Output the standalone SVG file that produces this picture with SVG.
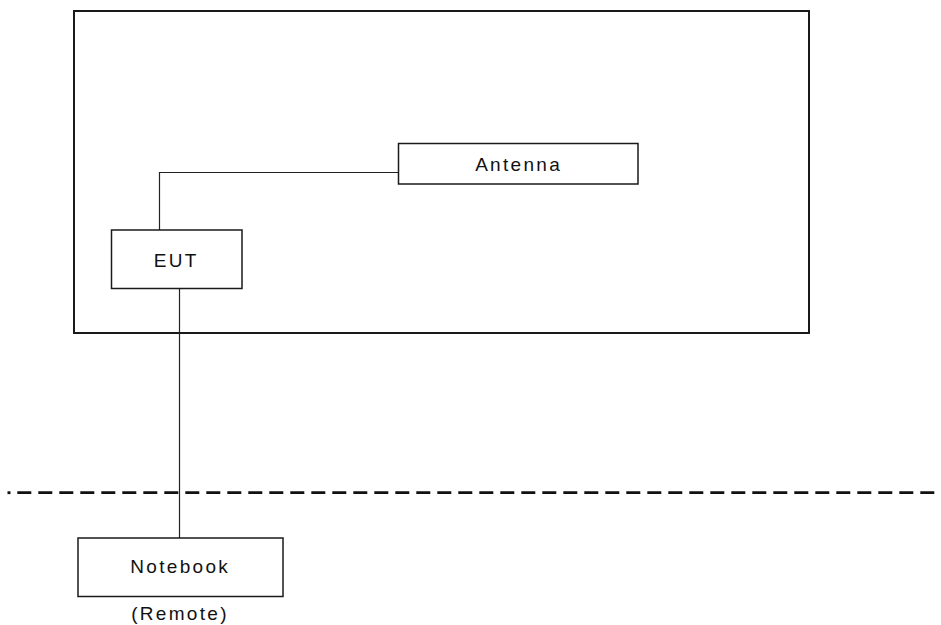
<svg xmlns="http://www.w3.org/2000/svg" width="941" height="625" viewBox="0 0 941 625">
<style>
.box{fill:#fff;stroke:#1a1a1a;stroke-width:1.5}
.outer{fill:none;stroke:#1a1a1a;stroke-width:2}
.lbl{font-family:"Liberation Sans",Arial,sans-serif;font-size:19px;letter-spacing:2.3px;fill:#111;text-anchor:middle}
.wire{fill:none;stroke:#222;stroke-width:1.2}
.dash{fill:none;stroke:#111;stroke-width:2.8}
</style>
<rect id="room" class="outer" x="74" y="11" width="735" height="322"/>
<g id="connectors">
<polyline class="wire" points="398.5,172.5 159.5,172.5 159.5,230"/>
<line class="wire" x1="179.5" y1="288.5" x2="179.5" y2="538"/>
</g>
<line class="dash" x1="7.5" y1="492.7" x2="10.5" y2="492.7"/>
<line class="dash" x1="17.3" y1="492.7" x2="941" y2="492.7" stroke-dasharray="14 7"/>
<g id="antenna">
<rect class="box" x="398.5" y="143.5" width="239.5" height="40.5"/>
<text class="lbl" x="518.6" y="171">Antenna</text>
</g>
<g id="eut">
<rect class="box" x="111.5" y="230" width="130.5" height="58.5"/>
<text class="lbl" x="176.2" y="267">EUT</text>
</g>
<g id="notebook">
<rect class="box" x="78" y="538" width="205" height="58.5"/>
<text class="lbl" x="180.2" y="573">Notebook</text>
<text class="lbl" x="180" y="620">(Remote)</text>
</g>
</svg>
